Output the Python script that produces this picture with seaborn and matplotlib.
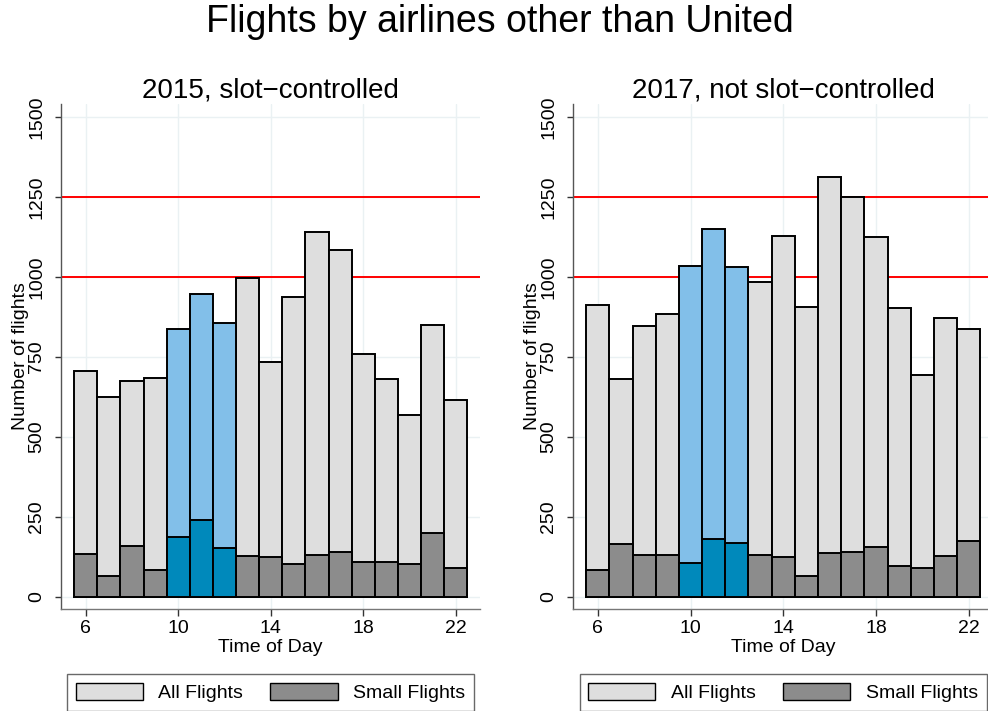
import matplotlib
matplotlib.use("Agg")
import matplotlib.pyplot as plt
from matplotlib.patches import Patch
import pandas as pd
import seaborn as sns

# Hourly flight counts (hour of day 6..22)
hours = list(range(6, 23))
slot_hours = [10, 11, 12]

all_2015 = [707, 626, 675, 684, 837, 947, 856, 996, 733, 937, 1141, 1084, 760, 682, 570, 850, 617]
small_2015 = [134, 65, 159, 84, 188, 241, 154, 128, 124, 102, 130, 141, 110, 110, 103, 201, 92]

all_2017 = [912, 682, 847, 884, 1034, 1151, 1030, 985, 1129, 906, 1313, 1250, 1125, 902, 693, 871, 838]
small_2017 = [84, 166, 131, 132, 106, 181, 169, 132, 125, 66, 138, 140, 157, 97, 92, 128, 176]

capacity_lines = [1000, 1250]
panel_titles = ["2015, slot\u2212controlled", "2017, not slot\u2212controlled"]
x_ticks = [6, 10, 14, 18, 22]
y_ticks = [0, 250, 500, 750, 1000, 1250, 1500]
legend_labels = ["All Flights", "Small Flights"]

GRAY_LIGHT = "#dedede"
GRAY_DARK = "#8c8c8c"
BLUE_LIGHT = "#82bfe9"
BLUE_DARK = "#0089bb"
GRID = "#eaf1f3"

sns.set_style("white")
plt.rcParams["font.family"] = ["Liberation Sans", "DejaVu Sans"]
plt.rcParams["text.color"] = "black"
plt.rcParams["axes.labelcolor"] = "black"
plt.rcParams["xtick.color"] = "black"
plt.rcParams["ytick.color"] = "black"

fig = plt.figure(figsize=(9.88, 7.11), dpi=100)
W, H = 988, 711


def frac_box(x0, x1, top, bottom):
    return [x0 / W, 1 - bottom / H, (x1 - x0) / W, (bottom - top) / H]


axes = [
    fig.add_axes(frac_box(61, 480, 104, 609)),
    fig.add_axes(frac_box(573, 993, 104, 609)),
]

datasets = [(all_2015, small_2015), (all_2017, small_2017)]

for ax, (all_vals, small_vals), title in zip(axes, datasets, panel_titles):
    df = pd.DataFrame({
        "hour": hours,
        "all": all_vals,
        "small": small_vals,
        "group": ["slot" if h in slot_hours else "other" for h in hours],
    })

    ax.set_axisbelow(True)
    for y in capacity_lines:
        ax.axhline(y, color="#ff0000", lw=1.4, zorder=0.9)

    sns.barplot(data=df, x="hour", y="all", hue="group",
                palette={"slot": BLUE_LIGHT, "other": GRAY_LIGHT},
                native_scale=True, width=1, dodge=False, legend=False,
                saturation=1, errorbar=None, edgecolor="black",
                linewidth=1.4, ax=ax)
    sns.barplot(data=df, x="hour", y="small", hue="group",
                palette={"slot": BLUE_DARK, "other": GRAY_DARK},
                native_scale=True, width=1, dodge=False, legend=False,
                saturation=1, errorbar=None, edgecolor="black",
                linewidth=1.4, ax=ax)

    ax.set_xlim(4.93, 23.05)
    ax.set_ylim(-37.6, 1540.7)
    ax.set_xticks(x_ticks)
    ax.set_xticklabels([str(t) for t in x_ticks])
    ax.set_yticks(y_ticks)
    ax.set_yticklabels([str(t) for t in y_ticks])

    ax.grid(True, color=GRID, lw=1.0)

    for side in ["top", "right"]:
        ax.spines[side].set_visible(False)
    ax.spines["left"].set_color("#555555")
    ax.spines["bottom"].set_color("#777777")
    ax.spines["left"].set_linewidth(1.0)
    ax.spines["bottom"].set_linewidth(1.0)

    ax.tick_params(axis="x", direction="out", length=5, width=1.0,
                   color="#333333", labelcolor="black", labelsize=14,
                   pad=3, bottom=True)
    ax.tick_params(axis="y", direction="out", length=4.3, width=1.0,
                   color="#333333", labelcolor="black", labelsize=14,
                   pad=7, left=True, labelrotation=90)
    for lab in ax.get_yticklabels():
        lab.set_va("center")

    ax.set_xlabel("Time of Day", fontsize=14, labelpad=1)
    ax.set_ylabel("Number of flights", fontsize=14)
    ax.yaxis.set_label_coords(-0.077, 0.5)
    ax.set_title(title, fontsize=20, pad=5)

    handles = [Patch(facecolor=GRAY_LIGHT, edgecolor="black", lw=1.0),
               Patch(facecolor=GRAY_DARK, edgecolor="black", lw=1.0)]
    leg = ax.legend(handles, legend_labels, loc="upper center",
                    bbox_to_anchor=(0.5, -0.1287), borderaxespad=0,
                    ncol=2, fontsize=14, frameon=True, fancybox=False,
                    handlelength=3.45, handleheight=1.0,
                    handletextpad=0.8, columnspacing=1.4, borderpad=0.45)
    leg.get_frame().set_edgecolor("#444444")
    leg.get_frame().set_linewidth(1.0)

fig.suptitle("Flights by airlines other than United", fontsize=27,
             x=0.506, y=1 - 22 / H, va="center")

fig.savefig("out.png", dpi=100)
